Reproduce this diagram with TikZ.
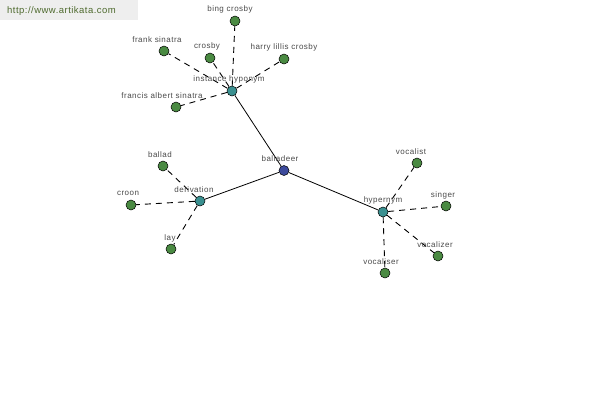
\documentclass[tikz,border=0pt]{standalone}
\usepackage{fontspec}
\newfontfamily\lblfont[LetterSpace=6]{Liberation Sans}
\newfontfamily\hdrfont[LetterSpace=5]{Liberation Sans}
\definecolor{leafgreen}{HTML}{4A8A42}
\definecolor{hubteal}{HTML}{3A9090}
\definecolor{rootblue}{HTML}{3C4A9C}
\definecolor{lblgray}{HTML}{4A4A4A}
\definecolor{hdrbg}{HTML}{EEEEEE}
\definecolor{hdrtext}{HTML}{4E6A2E}
\tikzset{
  leaf/.style={circle,draw=black,line width=0.5pt,fill=leafgreen,minimum size=10pt,inner sep=0pt},
  hub/.style={circle,draw=black,line width=0.5pt,fill=hubteal,minimum size=10pt,inner sep=0pt},
  root/.style={circle,draw=black,line width=0.5pt,fill=rootblue,minimum size=10pt,inner sep=0pt},
  lbl/.style={font=\lblfont\fontsize{8}{9}\selectfont,text=lblgray,inner sep=0pt},
  solidedge/.style={draw=black,line width=0.8pt},
  dashedge/.style={draw=black,line width=0.9pt,dash pattern=on 6pt off 5pt}
}
\begin{document}
\begin{tikzpicture}[x=1pt,y=-1pt]
\useasboundingbox (0,0) rectangle (600,400);
\fill[white] (0,0) rectangle (600,400);
\fill[hdrbg] (0,0) rectangle (138,20);
\node[anchor=west,inner sep=0pt,text=hdrtext,font=\hdrfont\fontsize{9.5}{11}\selectfont] (hdr) at (7,11) {http://www.artikata.com};

% nodes
\node[root] (balladeer) at (284,170.5) {};
\node[hub] (insthyp) at (232,91) {};
\node[hub] (hypernym) at (383,212) {};
\node[hub] (derivation) at (200,201) {};

\node[leaf] (bing) at (235,21) {};
\node[leaf] (frank) at (164,51) {};
\node[leaf] (crosby) at (210,58) {};
\node[leaf] (harry) at (284,59) {};
\node[leaf] (francis) at (176,107) {};
\node[leaf] (ballad) at (163,166) {};
\node[leaf] (croon) at (131,205) {};
\node[leaf] (lay) at (171,249) {};
\node[leaf] (vocalist) at (417,163) {};
\node[leaf] (singer) at (446,206) {};
\node[leaf] (vocalizer) at (438,256) {};
\node[leaf] (vocaliser) at (385,273) {};

% edges
\draw[solidedge] (balladeer) -- (insthyp);
\draw[solidedge] (balladeer) -- (hypernym);
\draw[solidedge] (balladeer) -- (derivation);
\foreach \l in {bing,frank,crosby,harry,francis}{\draw[dashedge] (insthyp) -- (\l);}
\foreach \l in {ballad,croon,lay}{\draw[dashedge] (derivation) -- (\l);}
\foreach \l in {vocalist,singer,vocalizer,vocaliser}{\draw[dashedge] (hypernym) -- (\l);}

% labels
\node[lbl] (lballadeer) at (280,158.5) {balladeer};
\node[lbl] (linsthyp) at (229,79) {instance hyponym};
\node[lbl] (lhypernym) at (383,200) {hypernym};
\node[lbl] (lderivation) at (194,189.5) {derivation};
\node[lbl] (lbing) at (230,9.5) {bing crosby};
\node[lbl] (lfrank) at (157,40) {frank sinatra};
\node[lbl] (lcrosby) at (207,46.5) {crosby};
\node[lbl] (lharry) at (284,47.5) {harry lillis crosby};
\node[lbl] (lfrancis) at (162,95.5) {francis albert sinatra};
\node[lbl] (lballad) at (160,154.5) {ballad};
\node[lbl] (lcroon) at (128,193.5) {croon};
\node[lbl] (llay) at (170,238) {lay};
\node[lbl] (lvocalist) at (411,152) {vocalist};
\node[lbl] (lsinger) at (443,195) {singer};
\node[lbl] (lvocalizer) at (435,244.5) {vocalizer};
\node[lbl] (lvocaliser) at (381,261.5) {vocaliser};
\end{tikzpicture}
\end{document}
